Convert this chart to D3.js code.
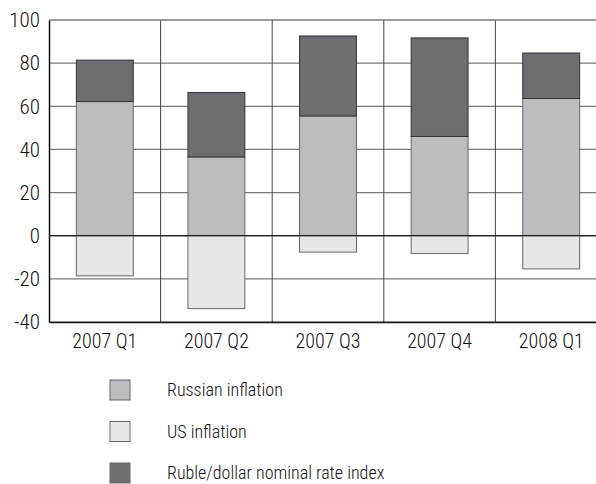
<!DOCTYPE html>
<html>
<head>
<meta charset="utf-8">
<script src="https://cdn.jsdelivr.net/npm/d3@7"></script>
<style>
  body { margin: 0; background: #fff; }
  svg text { font-family: Roboto, sans-serif; font-stretch: condensed; font-weight: 300; }
</style>
</head>
<body>
<div id="chart"></div>
<script>
const quarters = ["2007 Q1", "2007 Q2", "2007 Q3", "2007 Q4", "2008 Q1"];
const russianInflation = [62.2, 36.5, 55.5, 46.0, 63.6];
const usInflation = [-18.6, -33.8, -7.6, -8.3, -15.4];
const rubleDollar = [19.2, 29.9, 37.1, 45.7, 21.1];
const yTicks = [-40, -20, 0, 20, 40, 60, 80, 100];

const seriesNames = ["Russian inflation", "US inflation", "Ruble/dollar nominal rate index"];
const seriesColors = ["#bcbdc0", "#e6e7e8", "#6d6e71"];

let width = 596;
let height = 484;
let plotLeft = 49, plotTop = 20, plotBottom = 322, plotRight = 607;

let svg = d3.select("#chart")
    .append("svg")
    .attr("width", width)
    .attr("height", height);

let xScale = d3.scaleBand()
    .domain(quarters)
    .range([plotLeft, plotRight])
    .paddingInner(0)
    .paddingOuter(0);

let yScale = d3.scaleLinear()
    .domain([-40, 100])
    .range([plotBottom, plotTop]);

// horizontal grid
svg.append("g")
    .selectAll("line")
    .data(yTicks)
    .enter()
    .append("line")
    .attr("x1", plotLeft)
    .attr("x2", plotRight)
    .attr("y1", d => yScale(d))
    .attr("y2", d => yScale(d))
    .attr("stroke", d => d === 0 ? "#222" : "#7a7a7a")
    .attr("stroke-width", d => d === 0 ? 1.3 : 1.2);

// vertical dividers between quarters
svg.append("g")
    .selectAll("line")
    .data(quarters.slice(1))
    .enter()
    .append("line")
    .attr("x1", d => xScale(d))
    .attr("x2", d => xScale(d))
    .attr("y1", plotTop)
    .attr("y2", plotBottom)
    .attr("stroke", "#444")
    .attr("stroke-width", 1);

let barW = xScale.bandwidth() * 0.51;

// stacked segments
let rows = quarters.map((q, i) => ({
    q: q,
    segs: [
        { y0: 0, y1: russianInflation[i], c: seriesColors[0] },
        { y0: usInflation[i], y1: 0, c: seriesColors[1] },
        { y0: russianInflation[i], y1: russianInflation[i] + rubleDollar[i], c: seriesColors[2] }
    ]
}));

svg.append("g")
    .selectAll("g")
    .data(rows)
    .enter()
    .append("g")
    .each(function (d) {
        let cx = xScale(d.q) + xScale.bandwidth() / 2;
        d3.select(this).selectAll("rect")
            .data(d.segs)
            .enter()
            .append("rect")
            .attr("x", cx - barW / 2)
            .attr("width", barW)
            .attr("y", s => yScale(s.y1))
            .attr("height", s => yScale(s.y0) - yScale(s.y1))
            .attr("fill", s => s.c)
            .attr("stroke", s => s.c === seriesColors[2] ? "#333" : "#666")
            .attr("stroke-width", 1);
    });

// redraw zero line over bars
svg.append("line")
    .attr("x1", plotLeft).attr("x2", plotRight)
    .attr("y1", yScale(0)).attr("y2", yScale(0))
    .attr("stroke", "#222").attr("stroke-width", 1.3);

// y axis
let yAxis = d3.axisLeft(yScale)
    .tickValues(yTicks)
    .tickFormat(d => String(d))
    .tickSize(0)
    .tickPadding(9);
let yg = svg.append("g")
    .attr("transform", "translate(" + plotLeft + ",0)")
    .call(yAxis);
yg.attr("font-family", null).attr("font-size", null);
yg.select(".domain").attr("stroke", "#111").attr("stroke-width", 1.5);
yg.selectAll("text").attr("font-size", "21px").attr("fill", "#111");

// x axis
let xAxis = d3.axisBottom(xScale).tickSize(0).tickPadding(12);
let xg = svg.append("g")
    .attr("transform", "translate(0," + plotBottom + ")")
    .call(xAxis);
xg.attr("font-family", null).attr("font-size", null);
xg.select(".domain").attr("stroke", "#111").attr("stroke-width", 1.5);
xg.selectAll("text").attr("font-size", "20px").attr("fill", "#111");

// top border
svg.append("line")
    .attr("x1", plotLeft).attr("x2", plotRight)
    .attr("y1", plotTop).attr("y2", plotTop)
    .attr("stroke", "#7a7a7a").attr("stroke-width", 1.2);

// legend
let legend = svg.append("g")
    .selectAll("g")
    .data(seriesNames)
    .enter()
    .append("g")
    .attr("transform", (d, i) => "translate(110," + (380 + i * 41.5) + ")");

legend.append("rect")
    .attr("width", 20)
    .attr("height", 20)
    .attr("fill", (d, i) => seriesColors[i])
    .attr("stroke", "#666")
    .attr("stroke-width", 1);

legend.append("text")
    .attr("x", 57)
    .attr("y", 16)
    .attr("font-size", "18px")
    .attr("fill", "#111")
    .text(d => d);
</script>
</body>
</html>
